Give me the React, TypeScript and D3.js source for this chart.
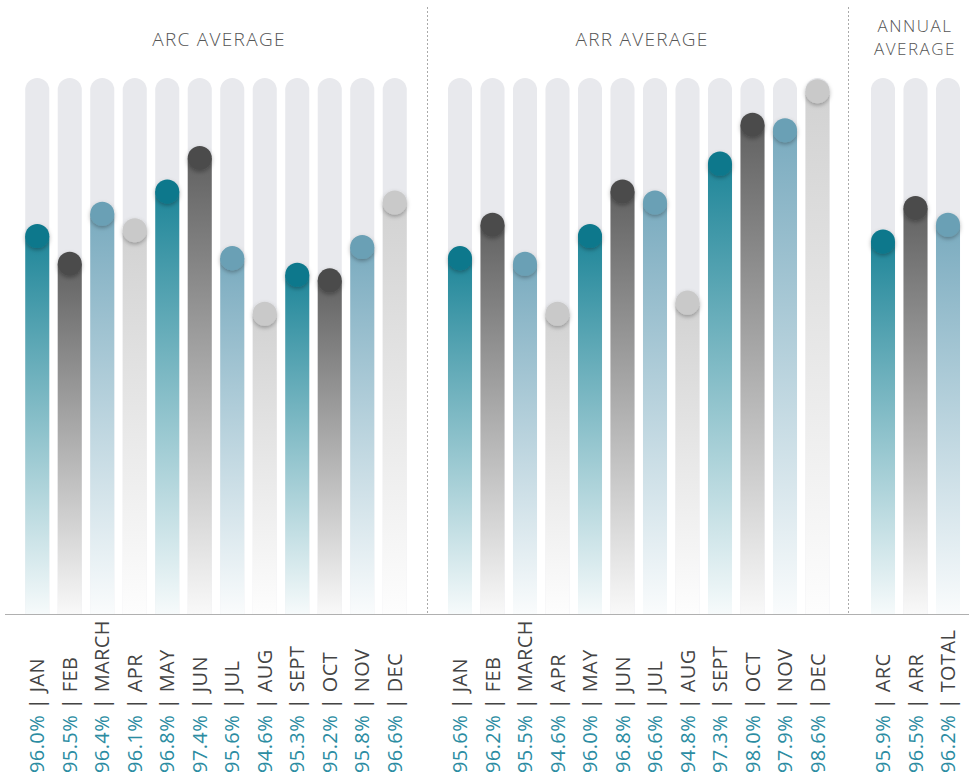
import * as d3 from "d3";

const arcMonths = ["JAN", "FEB", "MARCH", "APR", "MAY", "JUN", "JUL", "AUG", "SEPT", "OCT", "NOV", "DEC"];
const arcValues = [96.0, 95.5, 96.4, 96.1, 96.8, 97.4, 95.6, 94.6, 95.3, 95.2, 95.8, 96.6];

const arrMonths = ["JAN", "FEB", "MARCH", "APR", "MAY", "JUN", "JUL", "AUG", "SEPT", "OCT", "NOV", "DEC"];
const arrValues = [95.6, 96.2, 95.5, 94.6, 96.0, 96.8, 96.6, 94.8, 97.3, 98.0, 97.9, 98.6];

const annualLabels = ["ARC", "ARR", "TOTAL"];
const annualValues = [95.9, 96.5, 96.2];

// colour cycle: teal, dark grey, light blue, light grey
const palette = [
  { bar: "#1f8699", dot: "#0c788c" },
  { bar: "#626262", dot: "#4c4c4c" },
  { bar: "#7aabbf", dot: "#6aa0b5" },
  { bar: "#d2d2d2", dot: "#c9c9c9" },
];

const W = 969;
const H = 776;
const baseY = 614;
const topY = 78;
const labelY = 773;
const font = "'Open Sans', Lato, sans-serif";

const y = d3.scaleLinear().domain([89.2, 98.84]).range([baseY, topY]);

type Group = { key: string; labels: string[]; values: number[]; range: [number, number] };

const groups: Group[] = [
  { key: "arc", labels: arcMonths, values: arcValues, range: [21, 411] },
  { key: "arr", labels: arrMonths, values: arrValues, range: [443.75, 833.75] },
  { key: "ann", labels: annualLabels, values: annualValues, range: [866.75, 964.25] },
];

function Bars({ g }: { g: Group }) {
  const x = d3
    .scaleBand<string>()
    .domain(g.labels)
    .range(g.range)
    .paddingInner(0.26)
    .paddingOuter(0.13);
  const bw = x.bandwidth();
  const r = bw / 2;
  return (
    <g>
      {g.labels.map((lab, i) => {
        const x0 = x(lab)!;
        const cx = x0 + r;
        const v = g.values[i];
        const cy = y(v);
        const c = i % 4;
        return (
          <g key={lab}>
            <path
              d={`M${x0},${baseY}V${topY + r}A${r},${r} 0 0 1 ${x0 + bw},${topY + r}V${baseY}Z`}
              fill="#e8e9ed"
            />
            <rect x={x0} y={cy} width={bw} height={baseY - cy} fill="#fff" />
            <rect x={x0} y={cy} width={bw} height={baseY - cy} fill={`url(#grad${c})`} />
            <circle cx={cx} cy={cy} r={r} fill={palette[c].dot} filter="url(#shadow)" />
            <text
              transform={`translate(${cx + 7},${labelY}) rotate(-90)`}
              fontFamily={font}
              fontSize={20}
              letterSpacing={0.4}
            >
              <tspan fill="#2b8ca2">{v.toFixed(1)}%</tspan>
              <tspan fill="#444"> | {lab}</tspan>
            </text>
          </g>
        );
      })}
    </g>
  );
}

export default function App() {
  return (
    <svg
      width={W}
      height={H}
      style={{ position: "absolute", left: 0, top: 0, background: "#fff" }}
    >
      <defs>
        {palette.map((p, i) => (
          <linearGradient key={i} id={`grad${i}`} x1="0" y1="0" x2="0" y2="1">
            <stop offset="0" stopColor={p.bar} stopOpacity={1} />
            <stop offset="1" stopColor={p.bar} stopOpacity={0.04} />
          </linearGradient>
        ))}
        <filter id="shadow" x="-50%" y="-50%" width="200%" height="200%">
          <feDropShadow dx="0" dy="2" stdDeviation="2" floodColor="#000" floodOpacity="0.3" />
        </filter>
      </defs>

      {groups.map((g) => (
        <Bars key={g.key} g={g} />
      ))}

      <line x1={427.5} x2={427.5} y1={7} y2={baseY} stroke="#aaa" strokeDasharray="2,2" />
      <line x1={848.5} x2={848.5} y1={7} y2={baseY} stroke="#aaa" strokeDasharray="2,2" />
      <line x1={5} x2={W} y1={baseY + 0.5} y2={baseY + 0.5} stroke="#b0b0b0" />

      <g fontFamily={font} fontWeight={300} fill="#555" textAnchor="middle">
        <text x={219} y={46} fontSize={19} letterSpacing={1.3}>ARC AVERAGE</text>
        <text x={642} y={46} fontSize={19} letterSpacing={1.3}>ARR AVERAGE</text>
        <text x={915} y={32} fontSize={17} letterSpacing={1.5}>ANNUAL</text>
        <text x={915} y={55} fontSize={17} letterSpacing={1.5}>AVERAGE</text>
      </g>
    </svg>
  );
}
